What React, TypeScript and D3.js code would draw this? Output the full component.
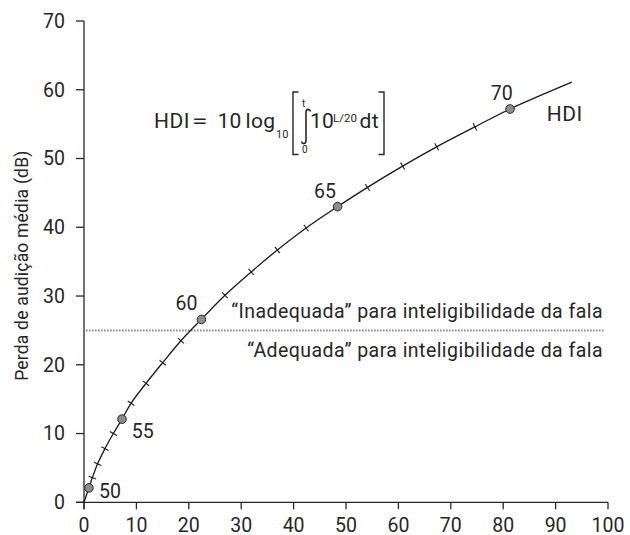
import React from "react";
import * as d3 from "d3";

// ---- data ----
const xTicks = [0, 10, 20, 30, 40, 50, 60, 70, 80, 90, 100];
const yTicks = [0, 10, 20, 30, 40, 50, 60, 70];
const hdiLevels = [50, 51, 52, 53, 54, 55, 56, 57, 58, 59, 60, 61, 62, 63, 64, 65, 66, 67, 68, 69, 70];
const hdiX = [0.95, 1.6, 2.6, 4.0, 5.6, 7.25, 8.97, 11.83, 15.0, 18.5, 22.4, 26.9, 31.9, 36.9, 42.4, 48.4, 54.1, 60.8, 67.3, 74.6, 81.3];
const hdiY = [2.1, 3.6, 5.6, 7.8, 10.0, 12.1, 14.4, 17.3, 20.3, 23.5, 26.6, 30.1, 33.5, 36.7, 39.9, 43.0, 45.8, 48.9, 51.7, 54.6, 57.2];
const curveStart = [0, 0];
const curveEnd = [93.1, 61.1];
const labeledLevels = [50, 55, 60, 65, 70];
const thresholdY = 25;
const yAxisTitle = "Perda de audição média (dB)";
const seriesName = "HDI";
const upperText = "“Inadequada” para inteligibilidade da fala";
const lowerText = "“Adequada” para inteligibilidade da fala";

// label placement relative to the point (styling)
const labelStyle: Record<number, { dx: number; dy: number; anchor: string }> = {
  50: { dx: 10, dy: 9.7, anchor: "start" },
  55: { dx: 9.7, dy: 19.3, anchor: "start" },
  60: { dx: -4, dy: -9.7, anchor: "end" },
  65: { dx: -1.7, dy: -8.4, anchor: "end" },
  70: { dx: -8.3, dy: -8.6, anchor: "middle" },
};

const W = 630;
const H = 535;
const FONT = "Roboto, 'Liberation Sans', sans-serif";
const INK = "#262626";

export default function App() {
  const x = d3.scaleLinear().domain([0, 100]).range([84, 608]);
  const y = d3.scaleLinear().domain([0, 70]).range([502.3, 21]);

  const pts: [number, number][] = [
    [curveStart[0], curveStart[1]],
    ...hdiLevels.map((_, i) => [hdiX[i], hdiY[i]] as [number, number]),
    [curveEnd[0], curveEnd[1]],
  ];
  const line = d3
    .line<[number, number]>()
    .x((d) => x(d[0]))
    .y((d) => y(d[1]))
    .curve(d3.curveCatmullRom.alpha(0.5));

  // tick marks across the curve
  const crossMarks = hdiLevels
    .map((lv, i) => {
      if (labeledLevels.includes(lv)) return null;
      const px = x(hdiX[i]);
      const py = y(hdiY[i]);
      const ax = x(i > 0 ? hdiX[i - 1] : curveStart[0]);
      const ay = y(i > 0 ? hdiY[i - 1] : curveStart[1]);
      const bx = x(i < hdiLevels.length - 1 ? hdiX[i + 1] : curveEnd[0]);
      const by = y(i < hdiLevels.length - 1 ? hdiY[i + 1] : curveEnd[1]);
      const tx = bx - ax;
      const ty = by - ay;
      const len = Math.hypot(tx, ty);
      const nx = -ty / len;
      const ny = tx / len;
      const h = 4;
      return { lv, x1: px - nx * h, y1: py - ny * h, x2: px + nx * h, y2: py + ny * h };
    })
    .filter(Boolean) as { lv: number; x1: number; y1: number; x2: number; y2: number }[];

  const x0 = x(0);
  const y0 = y(0);
  const yThr = y(thresholdY);
  const endPx = x(curveEnd[0]);
  const endPy = y(curveEnd[1]);

  const fb = 128; // formula baseline

  return (
    <div style={{ position: "absolute", left: 0, top: 0 }}>
      <svg width={W} height={H} style={{ display: "block", background: "#fff" }} fontFamily={FONT}>
        {/* y axis */}
        <line x1={x0} x2={x0} y1={y(70)} y2={y0 + 7} stroke={INK} strokeWidth={1.3} />
        {yTicks.map((t) => (
          <g key={"y" + t}>
            <line x1={x0 - 8} x2={x0} y1={y(t)} y2={y(t)} stroke={INK} strokeWidth={1.3} />
            <text x={65} y={y(t)} dy="0.35em" textAnchor="end" fontSize={19.5} fill={INK}>
              {t}
            </text>
          </g>
        ))}
        {/* x axis */}
        <line x1={x0 - 8} x2={x(100)} y1={y0} y2={y0} stroke={INK} strokeWidth={1.3} />
        {xTicks.map((t) => (
          <g key={"x" + t}>
            <line x1={x(t)} x2={x(t)} y1={y0} y2={y0 + 7} stroke={INK} strokeWidth={1.3} />
            <text x={x(t)} y={531.5} textAnchor="middle" fontSize={19.5} fill={INK}>
              {t}
            </text>
          </g>
        ))}
        {/* y title */}
        <text
          transform={`translate(28, ${(y(0) + y(70)) / 2 + 4}) rotate(-90)`}
          textAnchor="middle"
          fontSize={17.5}
          letterSpacing={0.2}
          fill={INK}
        >
          {yAxisTitle}
        </text>

        {/* threshold */}
        <line
          x1={x0 + 2}
          x2={605}
          y1={yThr}
          y2={yThr}
          stroke="#8a8a8a"
          strokeWidth={2}
          strokeDasharray="1.6,1.4"
        />
        <text x={603} y={yThr - 12} textAnchor="end" fontSize={19.5} letterSpacing={0.45} fill={INK}>
          {upperText}
        </text>
        <text x={603} y={yThr + 26.5} textAnchor="end" fontSize={19.5} letterSpacing={0.45} fill={INK}>
          {lowerText}
        </text>

        {/* curve */}
        <path d={line(pts) || ""} fill="none" stroke="#1a1a1a" strokeWidth={1.3} />
        {crossMarks.map((m) => (
          <line key={"c" + m.lv} x1={m.x1} y1={m.y1} x2={m.x2} y2={m.y2} stroke="#1a1a1a" strokeWidth={1.1} />
        ))}
        {labeledLevels.map((lv) => {
          const i = hdiLevels.indexOf(lv);
          const cx = x(hdiX[i]);
          const cy = y(hdiY[i]);
          const s = labelStyle[lv];
          return (
            <g key={"p" + lv}>
              <circle cx={cx} cy={cy} r={4.3} fill="#8c8c8c" stroke="#2a2a2a" strokeWidth={1} />
              <text x={cx + s.dx} y={cy + s.dy} textAnchor={s.anchor} fontSize={19.5} fill={INK}>
                {lv}
              </text>
            </g>
          );
        })}
        <text x={endPx - 25} y={endPy + 38.5} textAnchor="start" fontSize={21} letterSpacing={0.5} fill={INK}>
          {seriesName}
        </text>

        {/* formula */}
        <g fill={INK}>
          <text x={154} y={fb} fontSize={21} letterSpacing={0.5}>
            HDI
          </text>
          <g transform={`translate(${192 - 192 * 1.35},0) scale(1.35,1)`}>
            <text x={192} y={fb} fontSize={21}>
              =
            </text>
          </g>
          <text x={217.5} y={fb} fontSize={21} letterSpacing={0.3}>
            10
          </text>
          <text x={245.5} y={fb} fontSize={21} letterSpacing={0.3}>
            log
          </text>
          <text x={276} y={fb + 10} fontSize={11}>
            10
          </text>
          <path d={`M298.5,92 H293 V154.5 H298.5`} fill="none" stroke={INK} strokeWidth={1.4} />
          <path
            d={`M310.5,111.5 C309.5,108.5 306,108.5 306,112.5 L306,140 C306,144.5 302.5,144.5 301.5,141.5`}
            fill="none"
            stroke={INK}
            strokeWidth={1.6}
          />
          <text x={302} y={107} fontSize={10}>
            t
          </text>
          <text x={302} y={152.5} fontSize={10}>
            0
          </text>
          <text x={310} y={fb} fontSize={21} letterSpacing={0.3}>
            10
          </text>
          <text x={333} y={121.5} fontSize={11.5}>
            L/20
          </text>
          <text x={359.5} y={fb} fontSize={21} letterSpacing={0.3}>
            dt
          </text>
          <path d={`M378.5,92 H384 V154.5 H378.5`} fill="none" stroke={INK} strokeWidth={1.4} />
        </g>
      </svg>
    </div>
  );
}
